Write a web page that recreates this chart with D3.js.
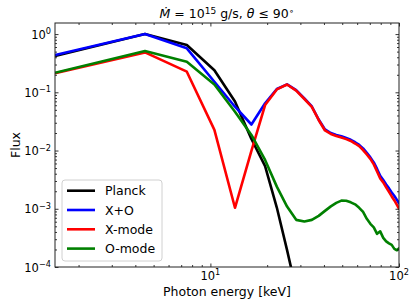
<!DOCTYPE html>
<html>
<head>
<meta charset="utf-8">
<script src="https://cdn.jsdelivr.net/npm/d3@7"></script>
<style>
    body { margin: 0; background: #fff; }
    text { font-family: "DejaVu Sans", sans-serif; fill: #000; }
</style>
</head>
<body>
<svg id="chart" width="415" height="303"></svg>
<script>
// photon energy grid [keV]
const energy = [1.5, 4.5, 7.5, 10.5, 13.5, 16.5, 19.5, 22.5, 25.5, 28.5, 31.5, 34.5,
    37.5, 40.5, 43.5, 46.5, 49.5, 52.5, 55.5, 58.5, 61.5, 64.5, 67.5, 70.5, 73.5,
    76.5, 79.5, 82.5, 85.5, 88.5, 91.5, 94.5, 97.5, 100.5];

const planck = [0.42, 1.0, 0.65, 0.24, 0.0695, 0.0158, 0.0054, 0.00105, 0.000195, 0.00004];

const xPlusO = [0.436, 1.0, 0.569, 0.152, 0.0566, 0.028, 0.0648, 0.114, 0.137, 0.109, 0.0789, 0.0571,
    0.0341, 0.023, 0.02, 0.0185, 0.0176, 0.0164, 0.0153, 0.0139, 0.0125, 0.0109, 0.0091, 0.00762,
    0.00625, 0.00483, 0.00367, 0.00313, 0.00262, 0.00224, 0.00191, 0.00166, 0.00142, 0.00121];

const xMode = [0.212, 0.485, 0.226, 0.0226, 0.00104, 0.00985, 0.0605, 0.112, 0.136, 0.107, 0.0767, 0.056,
    0.0335, 0.0221, 0.0193, 0.0178, 0.0168, 0.0157, 0.0146, 0.0132, 0.0119, 0.0102, 0.00857, 0.00718,
    0.00578, 0.00438, 0.00332, 0.00284, 0.00233, 0.00195, 0.00163, 0.00139, 0.00117, 0.00098];

const oMode = [0.217, 0.511, 0.335, 0.136, 0.0465, 0.0185, 0.0069, 0.0024, 0.00109, 0.000645, 0.000603, 0.000645,
    0.000755, 0.00092, 0.0011, 0.00126, 0.00138, 0.00137, 0.00129, 0.00119, 0.00104, 0.000885, 0.000671, 0.000551,
    0.00048, 0.000371, 0.000409, 0.000317, 0.000276, 0.000255, 0.00024, 0.000205, 0.000194, 0.000213];

const seriesNames = ["Planck", "X+O", "X-mode", "O-mode"];
const seriesColors = ["#000000", "#0000ff", "#ff0000", "#008000"];

const xMajor = [10, 100];
const yMajorExp = [-4, -3, -2, -1, 0];

const svg = d3.select("#chart");
const margin = { top: 23, right: 16, bottom: 36, left: 55 };
const width = 415, height = 303;

const x = d3.scaleLog()
    .domain([1.5, 100])
    .range([margin.left, width - margin.right]);

const y = d3.scaleLog()
    .domain([1e-4, 1.55])
    .range([height - margin.bottom, margin.top]);

const x0 = margin.left, x1 = width - margin.right;
const y0 = height - margin.bottom, y1 = margin.top;

// minor tick positions
const xMinor = [];
[1, 10].forEach(d => { for (let k = 2; k <= 9; k++) xMinor.push(k * d); });
const yMinor = [];
yMajorExp.slice(0, -1).forEach(e => { for (let k = 2; k <= 9; k++) yMinor.push(k * Math.pow(10, e)); });
const yMajor = yMajorExp.map(e => Math.pow(10, e));

svg.append("clipPath").attr("id", "plotClip")
    .append("rect")
    .attr("x", x0).attr("y", y1)
    .attr("width", x1 - x0).attr("height", y0 - y1);

// Series lines
const line = d3.line()
    .x(d => x(d[0]))
    .y(d => y(d[1]));

[planck, xPlusO, xMode, oMode].forEach((vals, i) => {
    svg.append("path")
        .datum(vals.map((v, j) => [energy[j], v]))
        .attr("clip-path", "url(#plotClip)")
        .attr("fill", "none")
        .attr("stroke", seriesColors[i])
        .attr("stroke-width", 2.6)
        .attr("stroke-linejoin", "round")
        .attr("d", line);
});

// Ticks (inward, on all four sides)
function ticks(axisFn, scale, values, size, transform) {
    const g = svg.append("g")
        .attr("transform", transform)
        .call(axisFn(scale).tickValues(values).tickSizeInner(-size).tickSizeOuter(0).tickFormat(""));
    g.select(".domain").remove();
    g.selectAll("line").attr("stroke", "#000").attr("stroke-width", 0.8);
}
ticks(d3.axisBottom, x, xMajor, 3.5, `translate(0,${y0})`);
ticks(d3.axisBottom, x, xMinor, 2, `translate(0,${y0})`);
ticks(d3.axisTop, x, xMajor, 3.5, `translate(0,${y1})`);
ticks(d3.axisTop, x, xMinor, 2, `translate(0,${y1})`);
ticks(d3.axisLeft, y, yMajor, 3.5, `translate(${x0},0)`);
ticks(d3.axisLeft, y, yMinor, 2, `translate(${x0},0)`);
ticks(d3.axisRight, y, yMajor, 3.5, `translate(${x1},0)`);
ticks(d3.axisRight, y, yMinor, 2, `translate(${x1},0)`);

// Frame
svg.append("rect")
    .attr("x", x0).attr("y", y1)
    .attr("width", x1 - x0).attr("height", y0 - y1)
    .attr("fill", "none")
    .attr("stroke", "#222")
    .attr("stroke-width", 1);

// Tick labels
const xLab = svg.selectAll(".xlab")
    .data(xMajor)
    .enter()
    .append("text")
    .attr("x", d => x(d))
    .attr("y", y0 + 12.5)
    .attr("text-anchor", "middle")
    .style("font-size", "11.5px");
xLab.append("tspan").text("10");
xLab.append("tspan").attr("dy", -4.5).style("font-size", "8.2px").text(d => Math.round(Math.log10(d)));

const yLab = svg.selectAll(".ylab")
    .data(yMajorExp)
    .enter()
    .append("text")
    .attr("x", x0 - 4)
    .attr("y", d => y(Math.pow(10, d)) + 4.5)
    .attr("text-anchor", "end")
    .style("font-size", "11.5px");
yLab.append("tspan").text("10");
yLab.append("tspan").attr("dy", -4.5).style("font-size", "8.2px").text(d => d < 0 ? "\u2212" + (-d) : d);

// Axis labels
svg.append("text")
    .attr("x", (x0 + x1) / 2)
    .attr("y", 296)
    .attr("text-anchor", "middle")
    .style("font-size", "12.5px")
    .text("Photon energy [keV]");

svg.append("text")
    .attr("transform", `translate(20,${(y0 + y1) / 2}) rotate(-90)`)
    .attr("text-anchor", "middle")
    .style("font-size", "12.5px")
    .text("Flux");

// Title
const title = svg.append("text")
    .attr("x", (x0 + x1) / 2)
    .attr("y", 18)
    .attr("text-anchor", "middle")
    .style("font-size", "12.5px");
title.append("tspan").style("font-style", "italic").text("\u1E40");
title.append("tspan").text(" = 10");
title.append("tspan").attr("dy", -4.5).style("font-size", "9px").text("15");
title.append("tspan").attr("dy", 4.5).text(" g/s, ");
title.append("tspan").style("font-style", "italic").text("\u03B8");
title.append("tspan").text(" \u2264 90");
title.append("tspan").attr("dy", -4.5).style("font-size", "9px").text("\u2218");

// Legend
const legend = svg.append("g").attr("transform", "translate(62,180)");
legend.append("rect")
    .attr("width", 100).attr("height", 81)
    .attr("rx", 3)
    .attr("fill", "#fff").attr("fill-opacity", 0.8)
    .attr("stroke", "#d0d0d0").attr("stroke-width", 1);

seriesNames.forEach((name, i) => {
    const ly = 10.7 + i * 19.3;
    legend.append("line")
        .attr("x1", 5).attr("x2", 33)
        .attr("y1", ly).attr("y2", ly)
        .attr("stroke", seriesColors[i])
        .attr("stroke-width", 2.6);
    legend.append("text")
        .attr("x", 43)
        .attr("y", ly + 4.5)
        .style("font-size", "12.5px")
        .text(name);
});
</script>
</body>
</html>
